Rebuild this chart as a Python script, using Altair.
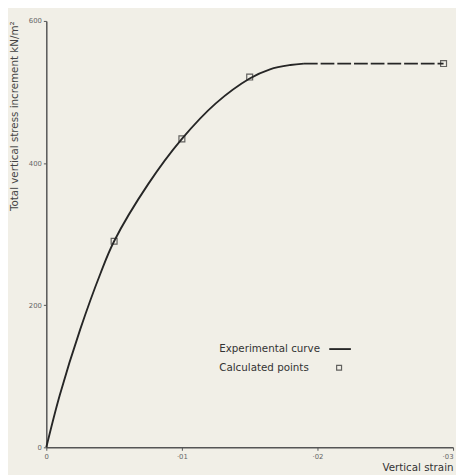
import altair as alt
import pandas as pd

# Experimental curve (solid part)
curve_x = [0.0, 0.001, 0.0025, 0.004, 0.005, 0.0075, 0.010, 0.0125, 0.015, 0.0165, 0.018, 0.019]
curve_y = [0, 74, 166, 245, 290, 370, 434, 484, 519, 532, 538, 540]
# Experimental curve (dashed plateau)
plateau_x = [0.019, 0.0293]
plateau_y = [540, 540]
# Calculated points
calc_x = [0.005, 0.010, 0.015, 0.0293]
calc_y = [290, 434, 521, 540]

x_ticks = [0, 0.01, 0.02, 0.03]
y_ticks = [0, 200, 400, 600]
legend_labels = ["Experimental curve", "Calculated points"]

INK = "#262626"
BG = "#f1efe7"
FONT = "DejaVu Sans"

df_curve = pd.DataFrame({"x": curve_x, "y": curve_y})
df_plat = pd.DataFrame({"x": plateau_x, "y": plateau_y})
df_calc = pd.DataFrame({"x": calc_x, "y": calc_y})

xs = alt.Scale(domain=[0, 0.03], nice=False, zero=True)
ys = alt.Scale(domain=[0, 600], nice=False)

x_axis = alt.Axis(
    values=x_ticks, title="Vertical strain", titleAnchor="end", titleAlign="right",
    labelExpr="datum.value == 0 ? '0' : replace(format(datum.value, '.2f'), '0.', '·')",
    labelAlign={"condition": {"test": "datum.value >= 0.03", "value": "right"}, "value": "center"},
    grid=False, tickSize=3, labelFontSize=7, labelColor="#666", titleFontSize=10.5,
    titleFontWeight="normal", titleColor="#333", titlePadding=4, labelPadding=2,
    domainColor="#555", domainWidth=1.5, tickColor="#555", labelFlush=False,
)
y_axis = alt.Axis(
    values=y_ticks, title="Total vertical stress increment kN/m²", titleAnchor="end",
    titleAlign="right", grid=False, tickSize=3, labelFontSize=7, labelColor="#666",
    titleFontSize=10.5, titleFontWeight="normal", titleColor="#444", titlePadding=9,
    labelPadding=2, domainColor="#555", domainWidth=1.5, tickColor="#555", labelFlush=False,
)

solid = alt.Chart(df_curve).mark_line(color=INK, strokeWidth=1.9, interpolate="catmull-rom").encode(
    x=alt.X("x:Q", scale=xs, axis=x_axis),
    y=alt.Y("y:Q", scale=ys, axis=y_axis),
)
dashed = alt.Chart(df_plat).mark_line(color=INK, strokeWidth=1.9, strokeDash=[14, 3]).encode(
    x=alt.X("x:Q", scale=xs), y=alt.Y("y:Q", scale=ys)
)
points = alt.Chart(df_calc).mark_point(shape="square", size=36, filled=False, color=INK, strokeWidth=1.2).encode(
    x=alt.X("x:Q", scale=xs), y=alt.Y("y:Q", scale=ys)
)

leg_txt1 = alt.Chart(pd.DataFrame({"t": [legend_labels[0]]})).mark_text(
    align="left", baseline="middle", fontSize=10.5, font=FONT, color="#333"
).encode(x=alt.value(176), y=alt.value(334), text="t:N")
leg_txt2 = alt.Chart(pd.DataFrame({"t": [legend_labels[1]]})).mark_text(
    align="left", baseline="middle", fontSize=10.5, font=FONT, color="#333"
).encode(x=alt.value(176), y=alt.value(353), text="t:N")
leg_line = alt.Chart(pd.DataFrame({"t": [0]})).mark_rule(color=INK, strokeWidth=1.9).encode(
    x=alt.value(288), x2=alt.value(310), y=alt.value(334)
)
leg_sq = alt.Chart(pd.DataFrame({"t": [0]})).mark_point(
    shape="square", size=25, filled=False, color=INK, strokeWidth=1.2
).encode(x=alt.value(298), y=alt.value(353))

chart = alt.layer(solid, dashed, points, leg_txt1, leg_txt2, leg_line, leg_sq).properties(
    width=414, height=434, background=BG,
    padding={"left": 39, "top": 9, "right": 3, "bottom": 24},
    autosize=alt.AutoSizeParams(type="none"),
).configure_view(stroke=None).configure_axis(labelFont=FONT, titleFont=FONT)

chart.save("out.html", embed_options={"renderer": "svg", "actions": False})
